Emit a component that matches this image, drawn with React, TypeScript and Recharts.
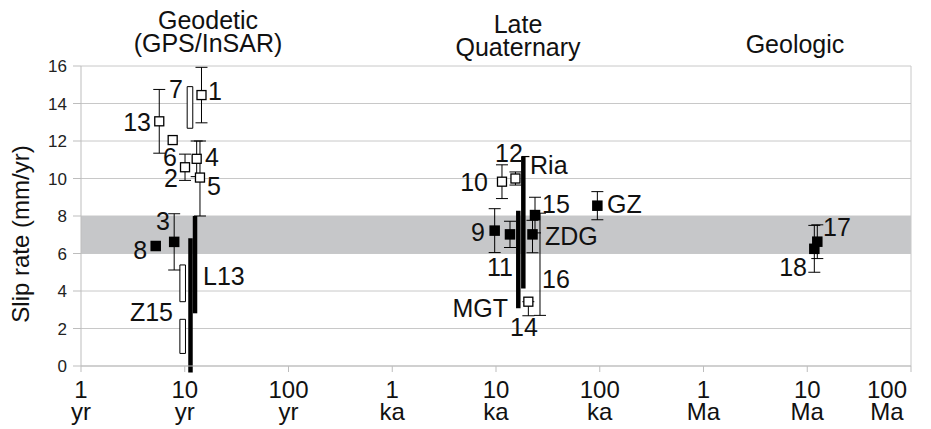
import React from 'react';
import {
  ComposedChart,
  Scatter,
  ErrorBar,
  XAxis,
  YAxis,
  CartesianGrid,
  ReferenceArea,
  ReferenceLine,
} from 'recharts';

const FONT = '"Liberation Sans", Arial, Helvetica, sans-serif';

// x = time window of the estimate (years), y = slip rate (mm/yr), err = [down, up]
const openPoints = [
  { id: '13', x: 5.68, y: 13.05, err: [1.7, 1.7] },
  { id: '2', x: 10.06, y: 10.6, err: [0.7, 0.7] },
  { id: '4', x: 13.03, y: 11.05, err: [0.95, 0.95] },
  { id: '5', x: 14.02, y: 10.05, err: [2.05, 1.95] },
  { id: '1', x: 14.5, y: 14.45, err: [1.48, 1.48] },
  { id: '10', x: 11420, y: 9.83, err: [0.9, 0.9] },
  { id: '12', x: 15400, y: 10.0, err: [0.35, 0.35] },
  { id: '14', x: 20500, y: 3.43, err: [0.75, 0] },
];
const openPlain = [{ id: '6', x: 7.65, y: 12.05 }];

const filledPoints = [
  { id: '3', x: 7.91, y: 6.62, err: [1.5, 1.5] },
  { id: '9', x: 9710, y: 7.22, err: [1.17, 1.17] },
  { id: '11', x: 13640, y: 7.02, err: [0.7, 0.7] },
  { id: 'ZDG', x: 22480, y: 7.02, err: [0.98, 0.75] },
  { id: '15', x: 23770, y: 8.05, err: [0.95, 0.95] },
  { id: 'GZ', x: 94800, y: 8.55, err: [0.75, 0.75] },
  { id: '17', x: 12500000, y: 6.63, err: [0.9, 0.9] },
  { id: '18', x: 11700000, y: 6.25, err: [1.25, 1.25] },
];
const filledPlain = [{ id: '8', x: 5.25, y: 6.4 }];

// bar with no marker, only its range
const bareRanges = [{ id: '16', x: 26550, y: 8.15, err: [5.45, 0] }];

// min/max ranges drawn as open boxes
const openRanges = [
  { id: '7', x: 11.23, y1: 12.68, y2: 14.9 },
  { id: 'Z15a', x: 9.55, y1: 3.43, y2: 5.39 },
  { id: 'Z15b', x: 9.55, y1: 0.67, y2: 2.49 },
];

// ranges drawn as thick black bars
const solidRanges = [
  { id: 'L13a', x: 12.56, y1: 2.81, y2: 8.0 },
  { id: 'L13b', x: 11.36, y1: -0.35, y2: 6.81 },
  { id: 'Ria', x: 18340, y1: 4.14, y2: 11.17 },
  { id: 'MGT', x: 16400, y1: 3.08, y2: 8.28 },
];
// small cap on top of the Ria bar
const riaCap = [{ x1: 17600, x2: 21000, y: 11.17 }];

const pointLabels = [
  { text: '13', x: 4.73, y: 13.01, anchor: 'end' },
  { text: '7', x: 9.62, y: 14.77, anchor: 'end' },
  { text: '1', x: 16.75, y: 14.67, anchor: 'start' },
  { text: '6', x: 6.17, y: 11.15, anchor: 'start' },
  { text: '4', x: 15.67, y: 11.15, anchor: 'start' },
  { text: '2', x: 8.61, y: 10.03, anchor: 'end' },
  { text: '5', x: 16.38, y: 9.6, anchor: 'start' },
  { text: '3', x: 7.21, y: 7.73, anchor: 'end' },
  { text: '8', x: 4.33, y: 6.19, anchor: 'end' },
  { text: 'L13', x: 15.0, y: 4.8, anchor: 'start' },
  { text: 'Z15', x: 7.7, y: 2.88, anchor: 'end' },
  { text: '12', x: 9780, y: 11.36, anchor: 'start' },
  { text: 'Ria', x: 21300, y: 10.72, anchor: 'start' },
  { text: '10', x: 8370, y: 9.81, anchor: 'end' },
  { text: '15', x: 27800, y: 8.64, anchor: 'start' },
  { text: 'GZ', x: 117400, y: 8.64, anchor: 'start' },
  { text: '9', x: 7830, y: 7.15, anchor: 'end' },
  { text: 'ZDG', x: 29700, y: 6.93, anchor: 'start' },
  { text: '11', x: 10930, y: 5.28, anchor: 'middle' },
  { text: '16', x: 27800, y: 4.64, anchor: 'start' },
  { text: 'MGT', x: 13050, y: 3.09, anchor: 'end' },
  { text: '14', x: 18600, y: 2.08, anchor: 'middle' },
  { text: '17', x: 14200000, y: 7.41, anchor: 'start' },
  { text: '18', x: 9950000, y: 5.28, anchor: 'end' },
];

const xTicks = [1, 10, 100, 1e3, 1e4, 1e5, 1e6, 1e7, 1e8];
const xTickNumbers = ['1', '10', '100', '1', '10', '100', '1', '10', '100'];
const xTickUnits = ['yr', 'yr', 'yr', 'ka', 'ka', 'ka', 'Ma', 'Ma', 'Ma'];
const yTicks = [0, 2, 4, 6, 8, 10, 12, 14, 16];
const band = [6, 8];

const groupTitles = [
  { lines: ['Geodetic', '(GPS/InSAR)'], left: 200, top: 1 },
  { lines: ['Late', 'Quaternary'], left: 510, top: 5 },
  { lines: ['Geologic'], left: 787, top: 25 },
];

const BOX_HALF = 1.064; // half width of range boxes, as a factor in log x

const OpenSquare = (props: any) => (
  <rect x={props.cx - 4.5} y={props.cy - 4.5} width={9} height={9} fill="#fff" stroke="#000" strokeWidth={1.3} />
);
const FilledSquare = (props: any) => (
  <rect x={props.cx - 5.25} y={props.cy - 5.25} width={10.5} height={10.5} fill="#000" />
);
const NoMark = () => <g />;
const LabelMark = (props: any) => (
  <text
    x={props.cx}
    y={props.cy}
    textAnchor={props.payload.anchor}
    dominantBaseline="central"
    fontSize={25}
    fontFamily={FONT}
    fill="#111"
  >
    {props.payload.text}
  </text>
);

const XTick = (props: any) => {
  const { x, y, payload } = props;
  const i = xTicks.indexOf(payload.value);
  return (
    <g>
      <text x={x} y={y + 24} textAnchor="middle" fontSize={24} fontFamily={FONT} fill="#111">
        {xTickNumbers[i]}
      </text>
      <text x={x} y={y + 46} textAnchor="middle" fontSize={24} fontFamily={FONT} fill="#111">
        {xTickUnits[i]}
      </text>
    </g>
  );
};

const YLabel = (props: any) => {
  const vb = props.viewBox;
  const cx = vb.x + 12;
  const cy = vb.y + vb.height / 2 + 18;
  return (
    <text
      x={cx}
      y={cy}
      transform={`rotate(-90, ${cx}, ${cy})`}
      textAnchor="middle"
      dominantBaseline="central"
      fontSize={24}
      fontFamily={FONT}
      fill="#111"
    >
      Slip rate (mm/yr)
    </text>
  );
};

export default function App() {
  return (
    <div style={{ position: 'relative', width: 915, height: 421, fontFamily: FONT }}>
      {groupTitles.map((t) => (
        <div
          key={t.lines[0]}
          style={{
            position: 'absolute',
            left: t.left - 100,
            top: t.top,
            width: 200,
            textAlign: 'center',
            fontSize: 25,
            lineHeight: '23px',
            color: '#111',
          }}
        >
          {t.lines.map((l) => (
            <div key={l}>{l}</div>
          ))}
        </div>
      ))}
      <ComposedChart width={915} height={421} margin={{ top: 58, right: 12, left: 0, bottom: 0 }}>
        <CartesianGrid vertical={false} stroke="#c8c8c8" />
        <ReferenceArea y1={band[0]} y2={band[1]} fill="#c6c7c9" fillOpacity={1} stroke="none" />
        <ReferenceLine x={1e8} stroke="#c8c8c8" />
        <XAxis
          dataKey="x"
          type="number"
          scale="log"
          domain={[1, 1e8]}
          ticks={xTicks}
          allowDataOverflow
          height={63}
          tickSize={6}
          tickMargin={2}
          axisLine={{ stroke: '#bdbdbd' }}
          tickLine={{ stroke: '#bdbdbd' }}
          tick={<XTick />}
        />
        <YAxis
          type="number"
          domain={[0, 16]}
          ticks={yTicks}
          allowDataOverflow
          width={73}
          tickSize={8}
          tickMargin={6}
          axisLine={{ stroke: '#bdbdbd' }}
          tickLine={{ stroke: '#bdbdbd' }}
          tick={{ fontSize: 17, fill: '#222', fontFamily: FONT }}
          label={YLabel}
        />
        {openRanges.map((r) => (
          <ReferenceArea
            key={r.id}
            x1={r.x / BOX_HALF}
            x2={r.x * BOX_HALF}
            y1={r.y1}
            y2={r.y2}
            fill="#fff"
            fillOpacity={1}
            stroke="#000"
            strokeWidth={1}
          />
        ))}
        {solidRanges.map((r) => (
          <ReferenceLine
            key={r.id}
            segment={[
              { x: r.x, y: r.y1 },
              { x: r.x, y: r.y2 },
            ]}
            stroke="#000"
            strokeWidth={4.5}
            ifOverflow="visible"
          />
        ))}
        {riaCap.map((c, i) => (
          <ReferenceLine
            key={`cap-${i}`}
            segment={[
              { x: c.x1, y: c.y },
              { x: c.x2, y: c.y },
            ]}
            stroke="#000"
            strokeWidth={1.2}
          />
        ))}
        <Scatter data={bareRanges} dataKey="y" shape={NoMark} isAnimationActive={false}>
          <ErrorBar dataKey="err" direction="y" width={6} stroke="#000" strokeWidth={1} />
        </Scatter>
        <Scatter data={openPoints} dataKey="y" shape={OpenSquare} isAnimationActive={false}>
          <ErrorBar dataKey="err" direction="y" width={6} stroke="#000" strokeWidth={1} />
        </Scatter>
        <Scatter data={openPlain} dataKey="y" shape={OpenSquare} isAnimationActive={false} />
        <Scatter data={filledPoints} dataKey="y" shape={FilledSquare} isAnimationActive={false}>
          <ErrorBar dataKey="err" direction="y" width={6} stroke="#000" strokeWidth={1} />
        </Scatter>
        <Scatter data={filledPlain} dataKey="y" shape={FilledSquare} isAnimationActive={false} />
        <Scatter data={pointLabels} dataKey="y" shape={LabelMark} isAnimationActive={false} />
      </ComposedChart>
    </div>
  );
}
